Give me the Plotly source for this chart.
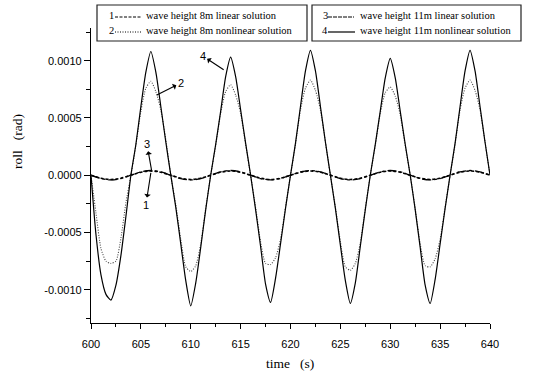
import plotly.graph_objects as go

# ---------------- data ----------------
time_fine = [600 + 0.5 * i for i in range(81)]   # 0.5 s sampling, 600..640 s
time_coarse = [600 + i for i in range(41)]        # 1 s sampling

# 4: wave height 11m nonlinear solution (rad)
roll_11m_nonlinear = [
    0.0, -0.00052, -0.00087, -0.00104, -0.00109, -0.00096, -0.00070, -0.00036,
    0.0, 0.00027, 0.00060, 0.00090, 0.00108, 0.00090, 0.00060, 0.00029,
    0.0, -0.00028, -0.00060, -0.00092, -0.00114, -0.00094, -0.00063, -0.00030,
    0.0, 0.00027, 0.00056, 0.00086, 0.00103, 0.00086, 0.00057, 0.00028,
    0.0, -0.00030, -0.00062, -0.00095, -0.00111, -0.00090, -0.00060, -0.00029,
    0.0, 0.00028, 0.00060, 0.00091, 0.00109, 0.00091, 0.00060, 0.00029,
    0.0, -0.00029, -0.00061, -0.00092, -0.00112, -0.00094, -0.00062, -0.00030,
    0.0, 0.00027, 0.00056, 0.00085, 0.00102, 0.00085, 0.00056, 0.00027,
    0.0, -0.00030, -0.00063, -0.00096, -0.00112, -0.00091, -0.00060, -0.00029,
    0.0, 0.00028, 0.00060, 0.00091, 0.00109, 0.00091, 0.00060, 0.00029,
    0.0,
]

# 2: wave height 8m nonlinear solution (rad)
roll_8m_nonlinear = [
    0.0, -0.00033, -0.00064, -0.00075, -0.00077, -0.00075, -0.00055, -0.00024,
    0.0, 0.00026, 0.00056, 0.00076, 0.00082, 0.00073, 0.00057, 0.00031,
    0.0, -0.00026, -0.00056, -0.00080, -0.00084, -0.00079, -0.00060, -0.00029,
    0.0, 0.00026, 0.00054, 0.00073, 0.00079, 0.00070, 0.00054, 0.00027,
    0.0, -0.00028, -0.00058, -0.00077, -0.00078, -0.00072, -0.00056, -0.00028,
    0.0, 0.00027, 0.00057, 0.00076, 0.00083, 0.00074, 0.00057, 0.00029,
    0.0, -0.00028, -0.00058, -0.00080, -0.00083, -0.00077, -0.00059, -0.00029,
    0.0, 0.00026, 0.00054, 0.00072, 0.00077, 0.00069, 0.00053, 0.00026,
    0.0, -0.00029, -0.00060, -0.00079, -0.00080, -0.00073, -0.00056, -0.00028,
    0.0, 0.00027, 0.00057, 0.00076, 0.00083, 0.00074, 0.00057, 0.00029,
    0.0,
]

# 1: wave height 8m linear solution (rad)
roll_8m_linear = [
    0.0, -0.000026, -0.000037, -0.000026, 0.0, 0.000026, 0.000037, 0.000026,
    0.0, -0.000026, -0.000037, -0.000026, 0.0, 0.000026, 0.000037, 0.000026,
    0.0, -0.000026, -0.000037, -0.000026, 0.0, 0.000026, 0.000037, 0.000026,
    0.0, -0.000026, -0.000037, -0.000026, 0.0, 0.000026, 0.000037, 0.000026,
    0.0, -0.000026, -0.000037, -0.000026, 0.0, 0.000026, 0.000037, 0.000026,
    0.0,
]

# 3: wave height 11m linear solution (rad)
roll_11m_linear = [
    0.0, -0.000029, -0.000041, -0.000029, 0.0, 0.000029, 0.000041, 0.000029,
    0.0, -0.000029, -0.000041, -0.000029, 0.0, 0.000029, 0.000041, 0.000029,
    0.0, -0.000029, -0.000041, -0.000029, 0.0, 0.000029, 0.000041, 0.000029,
    0.0, -0.000029, -0.000041, -0.000029, 0.0, 0.000029, 0.000041, 0.000029,
    0.0, -0.000029, -0.000041, -0.000029, 0.0, 0.000029, 0.000041, 0.000029,
    0.0,
]

legend_numbers = ["1", "2", "3", "4"]
legend_labels = [
    "wave height 8m linear solution",
    "wave height 8m nonlinear solution",
    "wave height 11m linear solution",
    "wave height 11m nonlinear solution",
]
y_tick_vals = [-0.0010, -0.0005, 0.0, 0.0005, 0.0010]
y_tick_text = ["-0.0010", "-0.0005", "0.0000", "0.0005", "0.0010"]
x_tick_vals = [600, 605, 610, 615, 620, 625, 630, 635, 640]

# ---------------- layout helpers ----------------
W, H = 543, 372
L, R, T, B = 91, 53, 28, 49
PW, PH = W - L - R, H - T - B


def px_x(x):
    return (x - L) / PW


def px_y(y):
    return (H - B - y) / PH


serif = "Liberation Serif"
sans = "Liberation Sans"

fig = go.Figure()
fig.add_trace(go.Scatter(x=time_coarse, y=roll_8m_linear, mode="lines",
                         line=dict(color="black", width=1.6, dash="3px,2px", shape="spline"),
                         showlegend=False))
fig.add_trace(go.Scatter(x=time_coarse, y=roll_11m_linear, mode="lines",
                         line=dict(color="black", width=1.3, dash="dashdot", shape="spline"),
                         showlegend=False))
fig.add_trace(go.Scatter(x=time_fine, y=roll_8m_nonlinear, mode="lines",
                         line=dict(color="#444444", width=1.1, dash="1px,1.5px", shape="spline", smoothing=0.6),
                         showlegend=False))
fig.add_trace(go.Scatter(x=time_fine, y=roll_11m_nonlinear, mode="lines",
                         line=dict(color="black", width=1.2, shape="spline", smoothing=0.6),
                         showlegend=False))

shapes = []
annotations = []

# legend boxes
for (x0, x1) in [(97, 307), (312, 521)]:
    shapes.append(dict(type="rect", xref="paper", yref="paper",
                       x0=px_x(x0), x1=px_x(x1), y0=px_y(41), y1=px_y(5),
                       line=dict(color="#222222", width=1.2), fillcolor="white", layer="above"))

legend_rows = [
    (111, 115, 141, 144, 16, "3px,1.5px", 1.0),
    (111, 115, 141, 144, 31, "1px,1.5px", 1.0),
    (325, 328, 354, 358, 16, "4px,1px", 1.0),
    (325, 328, 355, 358, 31, "solid", 1.2),
]
for i, (nx, lx0, lx1, tx, ty, dash, lw) in enumerate(legend_rows):
    annotations.append(dict(x=px_x(nx), y=px_y(ty), xref="paper", yref="paper",
                            text=legend_numbers[i], showarrow=False,
                            xanchor="center", yanchor="middle",
                            font=dict(family=serif, size=10.5, color="black")))
    shapes.append(dict(type="line", xref="paper", yref="paper",
                       x0=px_x(lx0), x1=px_x(lx1), y0=px_y(ty + 1), y1=px_y(ty + 1),
                       line=dict(color="black", width=lw, dash=dash)))
    annotations.append(dict(x=px_x(tx), y=px_y(ty), xref="paper", yref="paper",
                            text=legend_labels[i], showarrow=False,
                            xanchor="left", yanchor="middle",
                            font=dict(family=serif, size=10.5, color="black")))

# curve labels with arrows (arrowhead at label side)
curve_labels = [
    ("4", 613.3, 0.00092, -21, -14),
    ("2", 606.6, 0.00070, 24, -12),
    ("3", 606.1, 0.00003, -5, -28),
    ("1", 606.0, 0.00002, -5, 32),
]
for txt, x, y, ax, ay in curve_labels:
    annotations.append(dict(x=x, y=y, xref="x", yref="y", text=txt,
                            showarrow=True, ax=ax, ay=ay, arrowside="start",
                            arrowhead=2, arrowsize=1.1, arrowwidth=1.1, arrowcolor="black",
                            standoff=0, startstandoff=0,
                            font=dict(family=sans, size=11, color="black")))

# axis titles
annotations.append(dict(x=px_x(290), y=px_y(363), xref="paper", yref="paper",
                        text="time\u00a0\u00a0\u00a0(s)", showarrow=False,
                        xanchor="center", yanchor="middle",
                        font=dict(family=serif, size=13.5, color="black")))
annotations.append(dict(x=px_x(17), y=px_y(142), xref="paper", yref="paper",
                        text="roll\u00a0\u00a0\u00a0(rad)", showarrow=False, textangle=-90,
                        xanchor="center", yanchor="middle",
                        font=dict(family=serif, size=13.5, color="black")))

fig.update_layout(
    width=W, height=H,
    margin=dict(l=L, r=R, t=T, b=B, pad=0),
    paper_bgcolor="white", plot_bgcolor="white",
    showlegend=False,
    shapes=shapes, annotations=annotations,
    xaxis=dict(range=[600, 640], tickvals=x_tick_vals, showgrid=False, zeroline=False,
               showline=True, linecolor="black", linewidth=1.3,
               ticks="outside", ticklen=5, tickwidth=1, tickcolor="black",
               ticklabelstandoff=6,
               minor=dict(dtick=2.5, ticks="outside", ticklen=3, tickcolor="black", showgrid=False),
               tickfont=dict(family=sans, size=11, color="black")),
    yaxis=dict(range=[-0.00129, 0.001285], tickvals=y_tick_vals, ticktext=y_tick_text,
               showgrid=False, zeroline=False,
               showline=True, linecolor="black", linewidth=1.3,
               ticks="outside", ticklen=6, tickwidth=1, tickcolor="black",
               minor=dict(tickvals=[-0.00125, -0.00075, -0.00025, 0.00025, 0.00075, 0.00125],
                          ticks="outside", ticklen=4, tickcolor="black", showgrid=False),
               tickfont=dict(family=sans, size=11, color="black")),
)

fig.write_html("out.html")
